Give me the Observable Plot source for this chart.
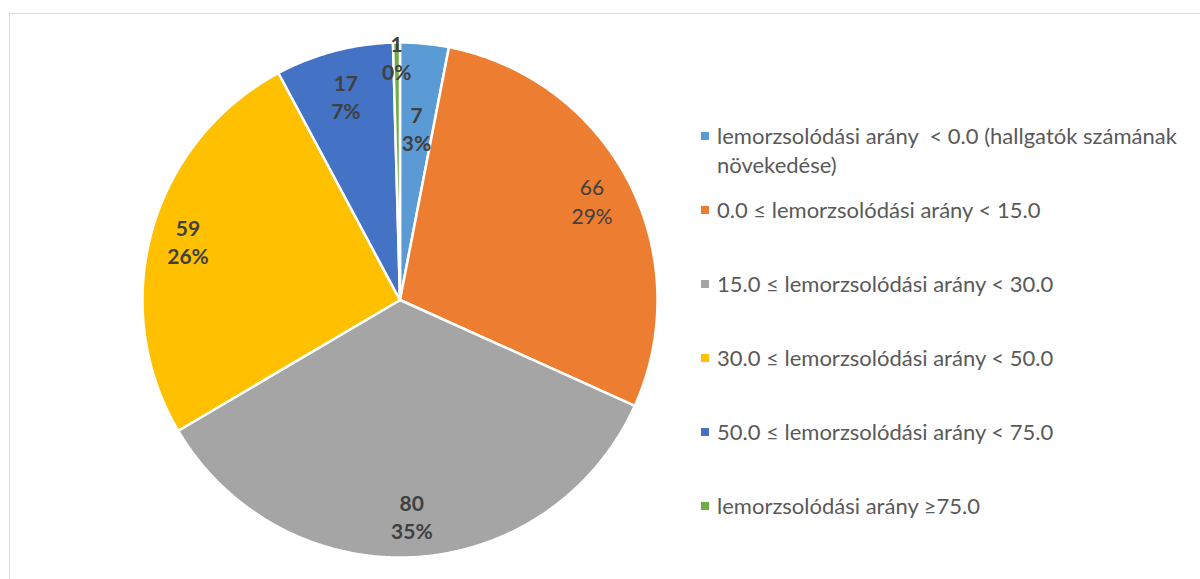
<!DOCTYPE html>
<html>
<head>
<meta charset="utf-8">
<script src="https://cdn.jsdelivr.net/npm/d3@7"></script>
<script src="https://cdn.jsdelivr.net/npm/@observablehq/plot@0.6"></script>
<style>
  html, body { margin: 0; padding: 0; background: #fff; }
  #wrap { position: relative; width: 1200px; height: 579px; overflow: hidden; font-family: Lato, "Open Sans", sans-serif; }
  #frame { position: absolute; left: 9px; top: 13px; width: 1400px; height: 800px; border-top: 1px solid #d9d9d9; border-left: 1px solid #d9d9d9; box-sizing: border-box; }
  #chart { position: absolute; left: 0; top: 0; }
  #legend { position: absolute; left: 700px; top: 122px; width: 498px; }
  .item { position: relative; height: 74px; padding-left: 17px; font-size: 22px; line-height: 28.5px; color: #595959; white-space: pre; }
  .sw { position: absolute; left: 1px; top: 10px; width: 8px; height: 8px; }
</style>
</head>
<body>
<div id="wrap">
  <div id="frame"></div>
  <div id="chart"></div>
  <div id="legend"></div>
</div>
<script>
// ---- data ----
const categories = [
  "lemorzsolódási arány  < 0.0 (hallgatók számának növekedése)",
  "0.0 ≤ lemorzsolódási arány < 15.0",
  "15.0 ≤ lemorzsolódási arány < 30.0",
  "30.0 ≤ lemorzsolódási arány < 50.0",
  "50.0 ≤ lemorzsolódási arány < 75.0",
  "lemorzsolódási arány ≥75.0"
];
const counts = [7, 66, 80, 59, 17, 1];
const colors = ["#5B9BD5", "#ED7D31", "#A5A5A5", "#FFC000", "#4472C4", "#70AD47"];

// ---- layout (not data) ----
const labelRadius = [0.67, 0.84, 0.84, 0.855, 0.82, 0.945];
const labelBold = [true, false, true, true, true, true];

const total = d3.sum(counts);
const arcs = d3.pie().sort(null).value(d => d)(counts);

// slice polygons in unit-circle coordinates (y up), clockwise from 12 o'clock
const rows = [];
arcs.forEach((a, i) => {
  const cat = categories[i];
  rows.push({cat, x: 0, y: 0});
  const n = Math.max(2, Math.ceil((a.endAngle - a.startAngle) / (Math.PI / 360)));
  for (let k = 0; k <= n; k++) {
    const t = a.startAngle + (a.endAngle - a.startAngle) * k / n;
    rows.push({cat, x: Math.sin(t), y: Math.cos(t)});
  }
  rows.push({cat, x: 0, y: 0});
});

const labels = arcs.map((a, i) => {
  const mid = (a.startAngle + a.endAngle) / 2;
  const r = labelRadius[i];
  return {
    cat: categories[i],
    bold: labelBold[i],
    x: r * Math.sin(mid),
    y: r * Math.cos(mid),
    text: `${counts[i]}\n${Math.round(counts[i] / total * 100)}%`
  };
});

const labelStyle = {x: "x", y: "y", text: "text", fill: "#404040", fontSize: 21, lineHeight: 1.35,
  fontFamily: "Lato, 'Open Sans', sans-serif"};

const chart = Plot.plot({
  width: 1200,
  height: 579,
  marginLeft: 142,
  marginRight: 543,
  marginTop: 42,
  marginBottom: 22,
  x: {domain: [-1, 1], axis: null},
  y: {domain: [-1, 1], axis: null},
  color: {domain: categories, range: colors},
  style: {background: "transparent", overflow: "visible"},
  marks: [
    Plot.line(rows, {x: "x", y: "y", z: "cat", fill: "cat", stroke: "white", strokeWidth: 2.5, curve: "linear", strokeLinejoin: "miter"}),
    Plot.text(labels.filter(d => d.bold), {...labelStyle, fontWeight: "bold"}),
    Plot.text(labels.filter(d => !d.bold), {...labelStyle, fontWeight: "normal"})
  ]
});
document.getElementById("chart").appendChild(chart);

// ---- legend ----
const legend = document.getElementById("legend");
categories.forEach((c, i) => {
  const item = document.createElement("div");
  item.className = "item";
  const sw = document.createElement("span");
  sw.className = "sw";
  sw.style.background = colors[i];
  item.appendChild(sw);
  const txt = document.createElement("span");
  txt.textContent = c.replace(" növekedése)", "\nnövekedése)");
  item.appendChild(txt);
  legend.appendChild(item);
});
</script>
</body>
</html>
